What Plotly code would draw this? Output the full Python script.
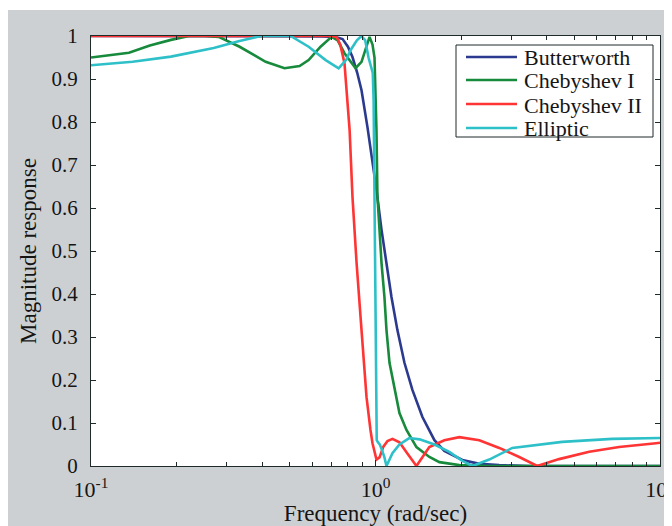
import plotly.graph_objects as go

# ---- data ----
series_names = ["Butterworth", "Chebyshev I", "Chebyshev II", "Elliptic"]
series_colors = ["#2b3a8f", "#178a3c", "#ff3434", "#2ec0c8"]

butter_freq = [0.1, 0.3, 0.5, 0.65, 0.72, 0.766, 0.80, 0.830, 0.862, 0.893, 0.937, 0.976,
               1.008, 1.050, 1.093, 1.138, 1.194, 1.264, 1.348, 1.462, 1.611, 1.746, 2.02,
               2.32, 2.72, 3.5, 10]
butter_mag = [1.0, 1.0, 1.0, 0.999, 0.998, 0.993, 0.975, 0.951, 0.915, 0.874, 0.788, 0.712,
              0.642, 0.549, 0.472, 0.393, 0.316, 0.240, 0.177, 0.114, 0.060, 0.035, 0.014,
              0.005, 0.002, 0.0, 0.0]

cheby1_freq = [0.1, 0.136, 0.161, 0.191, 0.221, 0.251, 0.281, 0.333, 0.376, 0.411, 0.479,
               0.541, 0.582, 0.641, 0.701, 0.736, 0.778, 0.851, 0.893, 0.930, 0.953, 0.976,
               0.992, 1.008, 1.016, 1.033, 1.050, 1.075, 1.093, 1.120, 1.166, 1.214, 1.285,
               1.393, 1.547, 1.677, 1.97, 2.5, 10]
cheby1_mag = [0.95, 0.961, 0.978, 0.991, 1.0, 1.0, 0.998, 0.975, 0.955, 0.940, 0.925,
              0.930, 0.944, 0.975, 0.998, 0.99, 0.96, 0.925, 0.94, 0.975, 0.998, 0.98,
              0.95, 0.78, 0.626, 0.549, 0.472, 0.393, 0.316, 0.240, 0.177, 0.123, 0.084,
              0.044, 0.021, 0.009, 0.002, 0.0, 0.0]

cheby2_freq = [0.1, 0.5, 0.70, 0.730, 0.752, 0.778, 0.811, 0.830, 0.858, 0.893, 0.930,
               0.960, 0.976, 1.008, 1.033, 1.066, 1.102, 1.147, 1.214, 1.285, 1.393, 1.546,
               1.746, 1.971, 2.317, 2.723, 3.2, 3.70, 4.42, 5.64, 7.18, 9.68, 10]
cheby2_mag = [1.0, 1.0, 1.0, 0.998, 0.98, 0.937, 0.781, 0.626, 0.472, 0.316, 0.160,
              0.084, 0.053, 0.015, 0.02, 0.045, 0.058, 0.063, 0.055, 0.032, 0.0, 0.044,
              0.060, 0.067, 0.060, 0.042, 0.021, 0.0, 0.016, 0.033, 0.044, 0.053, 0.054]

ellip_freq = [0.1, 0.14, 0.191, 0.27, 0.33, 0.382, 0.395, 0.45, 0.503, 0.582, 0.668, 0.742,
              0.79, 0.817, 0.86, 0.893, 0.92, 0.945, 0.965, 0.978, 0.985, 0.990, 0.995,
              1.000, 1.005, 1.010, 1.02, 1.035, 1.05, 1.075, 1.093, 1.147, 1.214, 1.314,
              1.43, 1.611, 1.818, 2.02, 2.19, 2.51, 3.025, 3.76, 4.53, 6.79, 10]
ellip_mag = [0.932, 0.94, 0.952, 0.972, 0.988, 0.998, 1.0, 1.0, 1.0, 0.975, 0.944, 0.925,
             0.945, 0.967, 0.99, 1.0, 0.99, 0.95, 0.925, 0.914, 0.85, 0.7, 0.45,
             0.3, 0.15, 0.06, 0.055, 0.05, 0.04, 0.02, 0.0, 0.03, 0.05, 0.065,
             0.062, 0.05, 0.033, 0.012, 0.0, 0.015, 0.042, 0.05, 0.056, 0.063, 0.065]

y_ticks = [0, 0.1, 0.2, 0.3, 0.4, 0.5, 0.6, 0.7, 0.8, 0.9, 1]
y_tick_labels = ["0", "0.1", "0.2", "0.3", "0.4", "0.5", "0.6", "0.7", "0.8", "0.9", "1"]
x_ticks = [0.1, 1, 10]
x_tick_labels = ["10<sup>-1</sup>", "10<sup>0</sup>", "10<sup>1</sup>"]
x_minor_ticks = [0.2, 0.3, 0.4, 0.5, 0.6, 0.7, 0.8, 0.9, 2, 3, 4, 5, 6, 7, 8, 9]
x_title = "Frequency (rad/sec)"
y_title = "Magnitude response"

all_freq = [butter_freq, cheby1_freq, cheby2_freq, ellip_freq]
all_mag = [butter_mag, cheby1_mag, cheby2_mag, ellip_mag]

# page has an 8px body margin; figure sits at (8, 8) of the page
W, H = 664, 518
L, R, T, B = 83, 12, 28, 60
OX, OY = 8, 8
FONT = "Liberation Serif, Times New Roman, serif"
TXT = "#151515"
AX = "#1f2a2a"
pw = W - L - R
ph = H - T - B


def px(page_x):
    return (page_x - OX - L) / pw


def py(page_y):
    return 1 - (page_y - OY - T) / ph


fig = go.Figure()
for name, color, fx, my in zip(series_names, series_colors, all_freq, all_mag):
    fig.add_trace(go.Scatter(x=fx, y=my, mode="lines", name=name, showlegend=False,
                             line=dict(color=color, width=2.6)))

# legend drawn as a boxed key (MATLAB style)
shapes = [
    dict(type="rect", xref="paper", yref="paper", x0=-L / pw, x1=(W - L) / pw,
         y0=py(8), y1=py(10), fillcolor="white", line=dict(width=0), layer="above"),
    dict(type="rect", xref="paper", yref="paper", x0=px(456), x1=px(653),
         y0=py(137), y1=py(45), fillcolor="white", line=dict(color=AX, width=1),
         layer="above"),
]
annotations = []
row_y = [57, 80, 104, 128]
for name, color, ry in zip(series_names, series_colors, row_y):
    shapes.append(dict(type="line", xref="paper", yref="paper", x0=px(466), x1=px(517),
                       y0=py(ry), y1=py(ry), line=dict(color=color, width=2.6),
                       layer="above"))
    annotations.append(dict(text=name, xref="paper", yref="paper", x=px(522), y=py(ry + 1),
                            xanchor="left", yanchor="middle", showarrow=False,
                            font=dict(family=FONT, size=22, color=TXT)))

fig.update_layout(
    width=W, height=H,
    margin=dict(l=L, r=R, t=T, b=B, pad=0, autoexpand=False),
    paper_bgcolor="#cdd0d3",
    plot_bgcolor="white",
    font=dict(family=FONT, size=21, color=TXT),
    showlegend=False,
    shapes=shapes,
    annotations=annotations,
)
fig.update_xaxes(
    type="log", range=[-1, 1], automargin=False,
    tickvals=x_ticks, ticktext=x_tick_labels, ticklabeloverflow="allow",
    ticks="inside", ticklen=6, tickcolor=AX, ticklabelstandoff=4,
    showline=True, linecolor=AX, linewidth=1, mirror="ticks",
    showgrid=False, zeroline=False,
    minor=dict(tickvals=x_minor_ticks, ticks="inside", ticklen=4, tickcolor=AX, showgrid=False),
    tickfont=dict(family=FONT, size=22, color=TXT),
    title=dict(text=x_title, font=dict(family=FONT, size=23, color=TXT), standoff=4),
)
fig.update_yaxes(
    range=[0, 1], automargin=False,
    tickvals=y_ticks, ticktext=y_tick_labels,
    ticks="inside", ticklen=5, tickcolor=AX, ticklabelstandoff=8,
    showline=True, linecolor=AX, linewidth=1, mirror="ticks",
    showgrid=False, zeroline=False,
    tickfont=dict(family=FONT, size=21, color=TXT),
    title=dict(text=y_title, font=dict(family=FONT, size=23, color=TXT), standoff=8),
)

fig.write_html("out.html")
